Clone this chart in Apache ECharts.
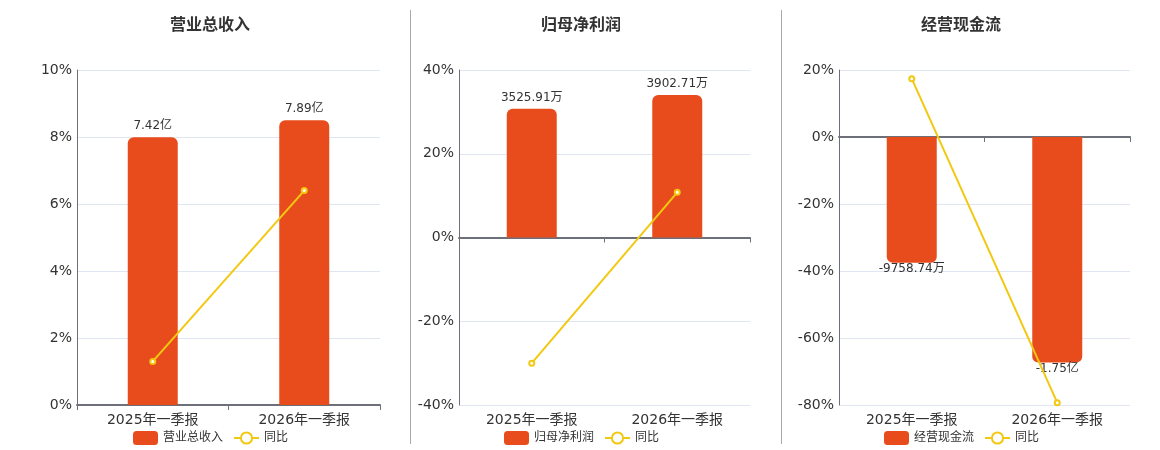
<!DOCTYPE html>
<html>
<head>
<meta charset="utf-8">
<script src="https://cdn.jsdelivr.net/npm/echarts@6/dist/echarts.min.js"></script>
<style>
  html, body { margin: 0; padding: 0; background: #fff; }
  #main { width: 1160px; height: 450px; }
</style>
</head>
<body>
<div id="main"></div>
<script>
// 报告期
var periods = ["2025年一季报", "2026年一季报"];
// 金额，单位：万元
var revenue = [74200, 78900];
var netProfit = [3525.91, 3902.71];
var cashFlow = [-9758.74, -17500];
// 同比 (%)
var revenueYoy = [1.3, 6.4];
var netProfitYoy = [-30.0, 10.8];
var cashFlowYoy = [17.4, -79.3];
// 百分比轴刻度
var pctAxes = [
  { min: 0, max: 10, interval: 2 },
  { min: -40, max: 40, interval: 20 },
  { min: -80, max: 20, interval: 20 }
];

var FONT = "DejaVu Sans, Noto Sans CJK SC, sans-serif";
var BAR_COLOR = "#E84C1D";
var LINE_COLOR = "#F2C811";

function fmtMoney(v) {
  if (Math.abs(v) >= 10000) return (v / 10000).toFixed(2) + "亿";
  return v.toFixed(2) + "万";
}

var panels = [
  { name: "营业总收入", bars: revenue, yoy: revenueYoy, left: 77, width: 303, centerX: 205, barMin: 0, barMax: 92820 },
  { name: "归母净利润", bars: netProfit, yoy: netProfitYoy, left: 459, width: 291, centerX: 576, barMin: -4591, barMax: 4591 },
  { name: "经营现金流", bars: cashFlow, yoy: cashFlowYoy, left: 839, width: 291, centerX: 956, barMin: -20800, barMax: 5200 }
];

var option = {
  animation: false,
  textStyle: { fontFamily: FONT },
  title: [],
  legend: [],
  grid: [],
  xAxis: [],
  yAxis: [],
  series: [],
  graphic: [
    { type: "line", shape: { x1: 410.5, y1: 10, x2: 410.5, y2: 444 }, style: { stroke: "#aaa", lineWidth: 1 } },
    { type: "line", shape: { x1: 781.5, y1: 10, x2: 781.5, y2: 444 }, style: { stroke: "#aaa", lineWidth: 1 } }
  ]
};

panels.forEach(function(p, i) {
  option.title.push({
    text: p.name,
    left: p.centerX,
    top: 13,
    textAlign: "center",
    textStyle: { fontSize: 16, fontWeight: "bold", color: "#333", fontFamily: FONT }
  });
  option.legend.push({
    data: [p.name, "同比"],
    left: p.centerX - 77,
    top: 426,
    itemWidth: 25,
    itemHeight: 14,
    itemGap: 10,
    textStyle: { fontSize: 12, color: "#333", fontFamily: FONT }
  });
  option.grid.push({ left: p.left, width: p.width, top: 70, height: 335 });
  // 零线与刻度
  option.xAxis.push({
    type: "category",
    gridIndex: i,
    data: periods,
    axisLine: { show: true, onZero: true, onZeroAxisIndex: i * 2, lineStyle: { color: "#6E7079", width: 2 } },
    axisTick: { show: true, length: 5, lineStyle: { color: "#6E7079" } },
    axisLabel: { show: false }
  });
  // 底部标签
  option.xAxis.push({
    type: "category",
    gridIndex: i,
    position: "bottom",
    data: periods,
    axisLine: { show: false, onZero: false },
    axisTick: { show: false },
    axisLabel: { show: true, fontSize: 14, color: "#333", margin: 8, fontFamily: FONT }
  });
  option.yAxis.push({
    type: "value",
    gridIndex: i,
    min: pctAxes[i].min,
    max: pctAxes[i].max,
    interval: pctAxes[i].interval,
    axisLine: { show: true, lineStyle: { color: "#6E7079" } },
    axisTick: { show: false },
    splitLine: { lineStyle: { color: "#E0E6F1" } },
    axisLabel: { formatter: "{value}%", fontSize: 14, color: "#333", margin: 5, fontFamily: FONT }
  });
  option.yAxis.push({
    type: "value",
    gridIndex: i,
    min: p.barMin,
    max: p.barMax,
    show: false,
    splitLine: { show: false }
  });
  option.series.push({
    name: p.name,
    type: "bar",
    xAxisIndex: i * 2 + 1,
    yAxisIndex: i * 2 + 1,
    barWidth: 50,
    itemStyle: { color: BAR_COLOR },
    data: p.bars.map(function(v) {
      var neg = v < 0;
      return {
        value: v,
        itemStyle: { borderRadius: neg ? [0, 0, 6, 6] : [6, 6, 0, 0] },
        label: { position: neg ? "bottom" : "top", distance: neg ? 0 : 5 }
      };
    }),
    label: {
      show: true,
      fontSize: 12,
      color: "#333",
      fontFamily: FONT,
      formatter: function(params) { return fmtMoney(params.value); }
    }
  });
  option.series.push({
    name: "同比",
    type: "line",
    xAxisIndex: i * 2 + 1,
    yAxisIndex: i * 2,
    data: p.yoy,
    symbol: "emptyCircle",
    symbolSize: 5,
    lineStyle: { color: LINE_COLOR, width: 2 },
    itemStyle: { color: LINE_COLOR, borderWidth: 2 },
    z: 5
  });
});

var chart = echarts.init(document.getElementById("main"));
chart.setOption(option);
</script>
</body>
</html>
